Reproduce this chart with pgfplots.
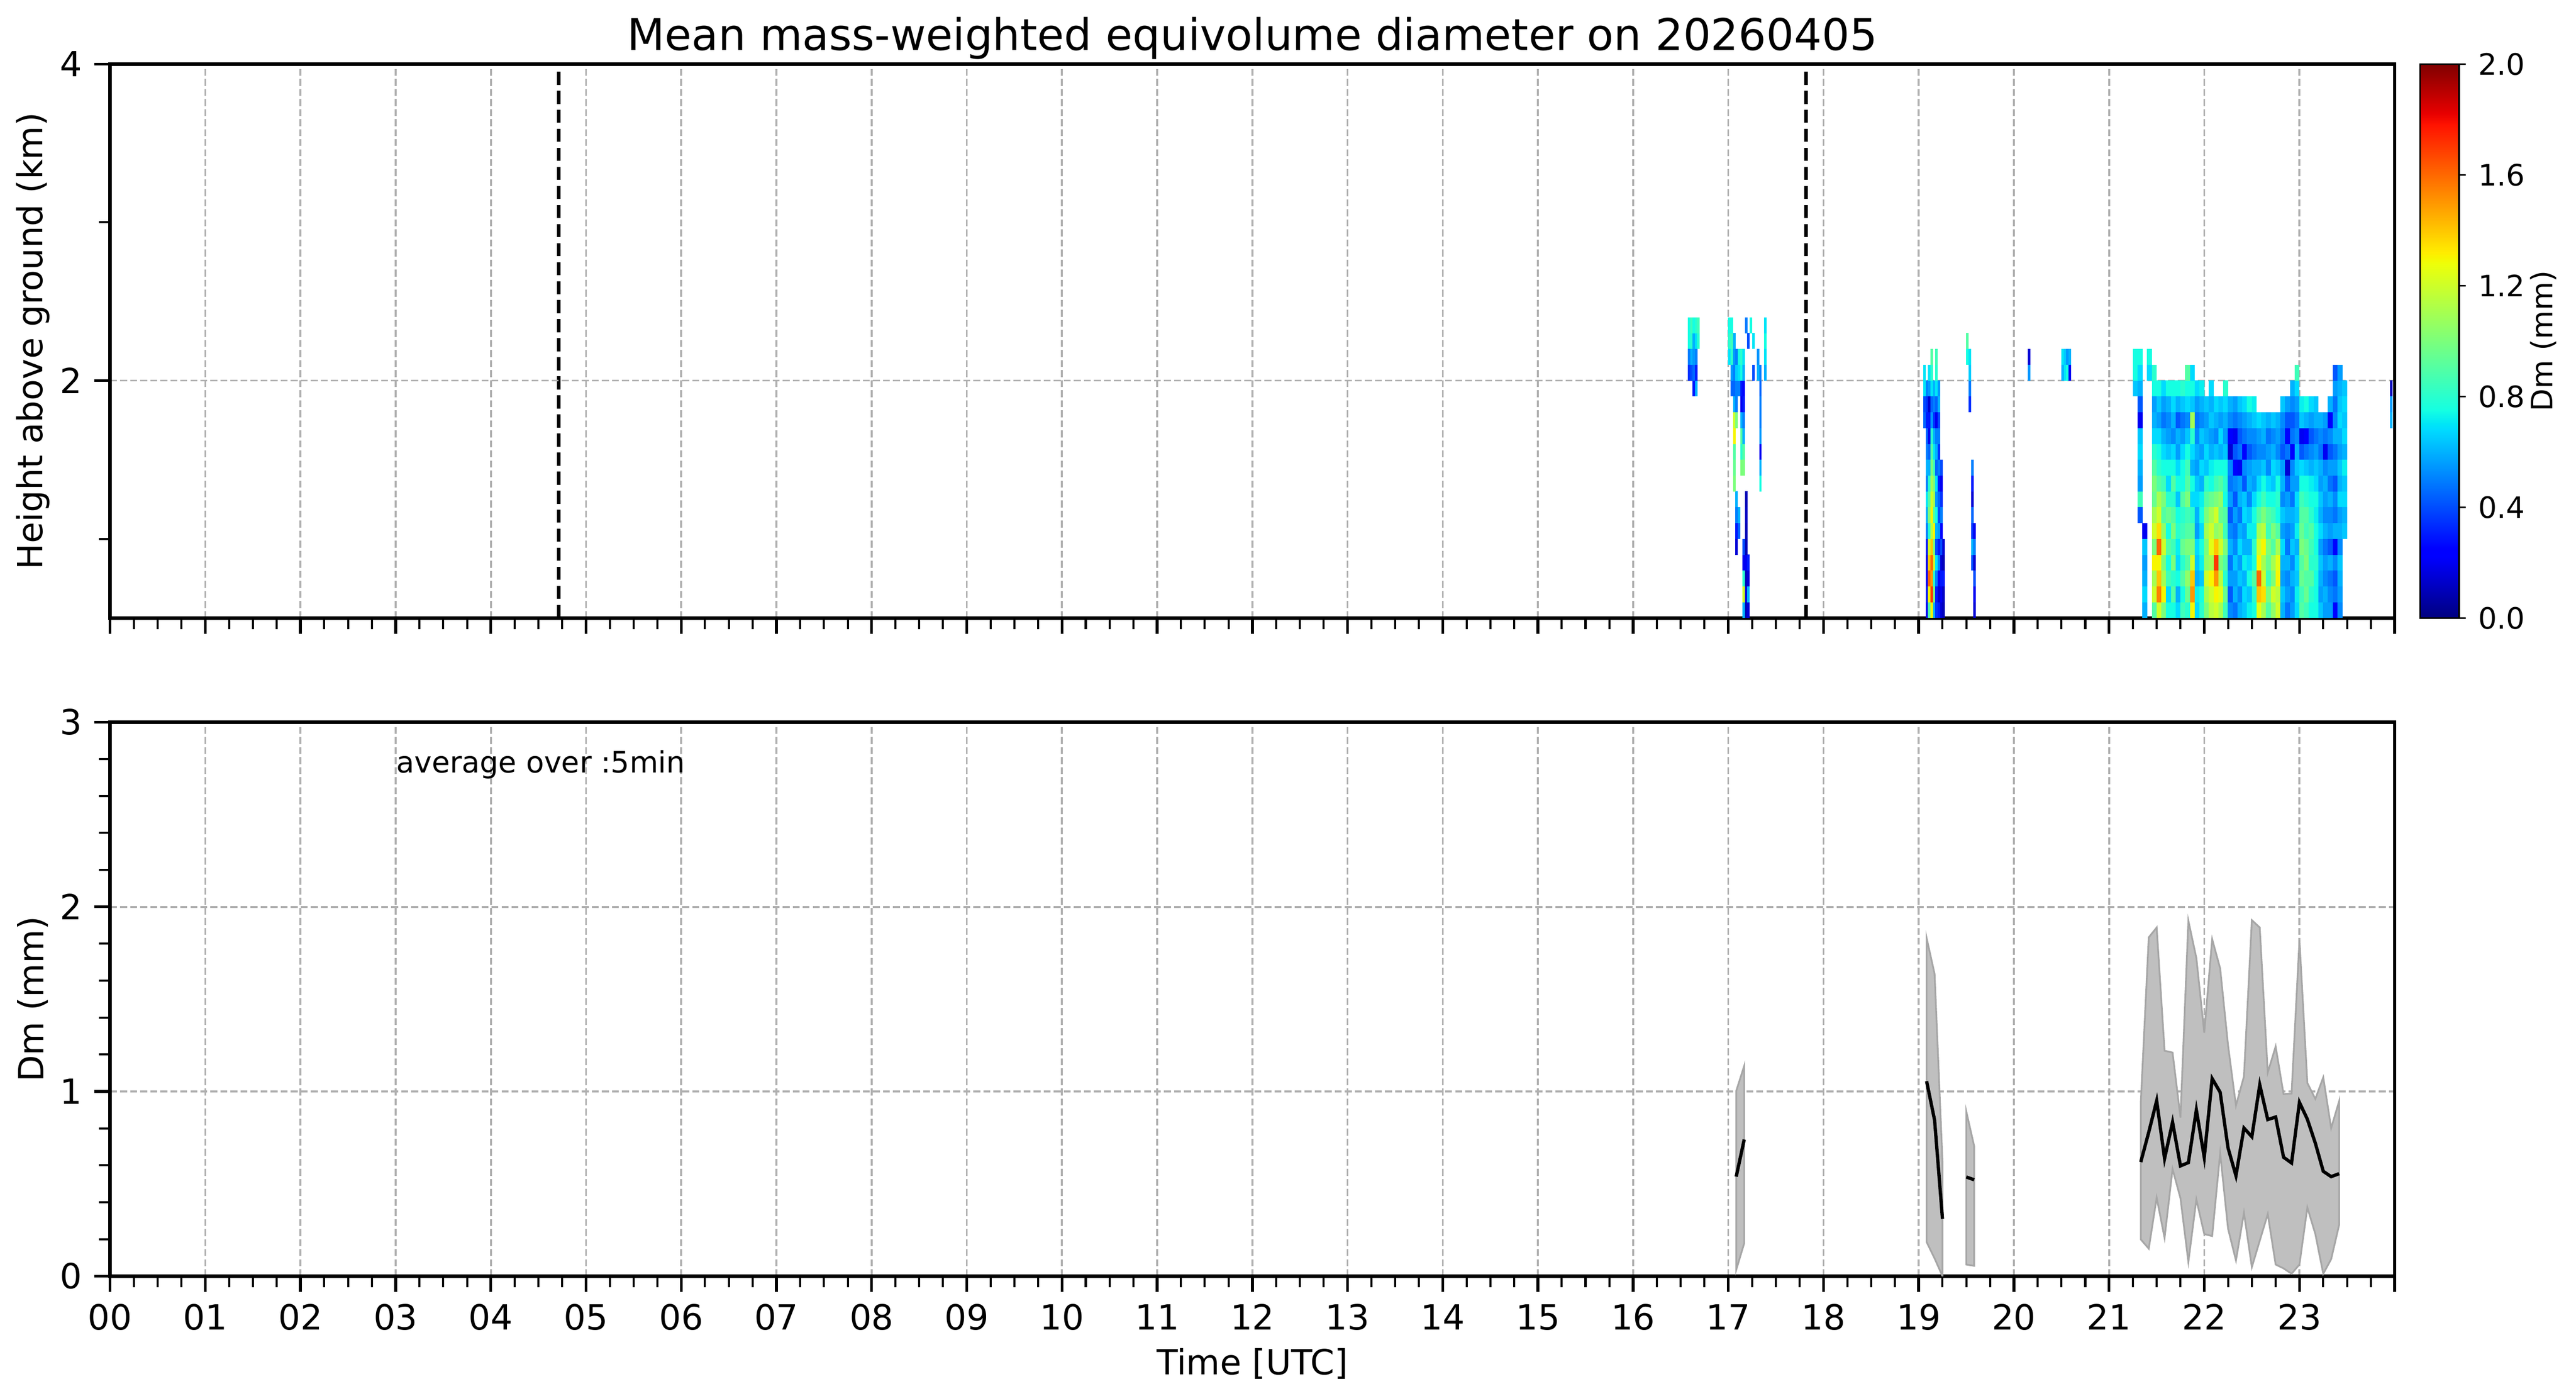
\documentclass[border=0pt]{standalone}
\usepackage{fontspec}
\setmainfont{DejaVu Sans}
\usepackage{pgfplots}
\usepackage{pgfplotstable}
\pgfplotsset{compat=1.18}

\definecolor{gridgray}{HTML}{B0B0B0}
\definecolor{bandfill}{HTML}{BFBFBF}
\definecolor{bandedge}{HTML}{A6A6A6}

\pgfplotsset{
  colormap={mpljet}{rgb(0pt)=(0,0,0.5) rgb(110pt)=(0,0,1) rgb(125pt)=(0,0,1)
    rgb(340pt)=(0,0.86,1) rgb(350pt)=(0,0.9,0.968) rgb(375pt)=(0.081,1,0.887)
    rgb(640pt)=(0.935,1,0.032) rgb(650pt)=(0.968,0.963,0) rgb(660pt)=(1,0.926,0)
    rgb(890pt)=(1,0.074,0) rgb(910pt)=(0.909,0,0) rgb(1000pt)=(0.5,0,0)},
  /pgf/number format/assume math mode=true,
}

\pgfdeclareplotmark{cellW}{\pgfpathrectangle{\pgfpoint{-0.72pt}{-2.31pt}}{\pgfpoint{1.44pt}{4.62pt}}\pgfusepathqfill}
\pgfdeclareplotmark{cellN}{\pgfpathrectangle{\pgfpoint{-0.37pt}{-2.31pt}}{\pgfpoint{0.74pt}{4.62pt}}\pgfusepathqfill}

% Dm (mm) per 0.1 km band (c0 = 0.5-0.6 km ... ), -1 = no data; 0.05 h columns
\pgfplotstableread{
x c0 c1 c2 c3 c4 c5 c6 c7 c8 c9 c10 c11 c12 c13 c14 c15 c16
21.275 -1 -1 -1 -1 -1 -1 -1 -1 -1 -1 -1 -1 -1 -1 0.64 0.75 0.75
21.325 -1 -1 -1 -1 -1 -1 0.42 0.85 0.56 0.6 0.68 0.64 0.2 0.42 0.6 0.68 0.75
21.375 0.6 0.68 0.6 0.56 0.64 0.2 -1 -1 -1 -1 -1 -1 -1 -1 -1 -1 -1
21.425 -1 -1 -1 -1 -1 -1 -1 -1 -1 -1 -1 -1 -1 -1 -1 0.68 0.75
21.475 0.9 1.2 1.1 1.3 1.0 1.2 1.1 0.95 1.0 0.9 0.8 0.68 0.6 0.56 0.75 0.8 -1
21.525 1.2 1.55 1.4 1.3 1.6 1.35 1.2 1.1 0.9 0.8 0.75 0.68 0.56 0.64 0.75 -1 -1
21.575 1.0 1.3 1.1 1.0 1.2 1.05 0.9 1.0 0.85 0.75 0.68 0.6 0.48 0.56 0.68 -1 -1
21.625 0.75 0.68 0.85 0.75 0.9 0.75 0.95 0.8 0.68 0.75 0.64 0.56 0.52 0.6 0.75 -1 -1
21.675 0.75 0.9 0.8 1.0 0.85 1.0 0.9 0.8 0.9 0.75 0.68 0.52 0.6 0.68 0.75 -1 -1
21.725 0.68 0.6 0.75 0.68 0.72 0.8 0.75 0.64 0.75 0.68 0.56 0.6 0.42 0.6 0.75 -1 -1
21.775 0.85 0.75 0.9 0.8 0.95 0.85 0.8 0.9 0.75 0.75 0.68 0.56 0.48 0.64 0.8 -1 -1
21.825 0.8 0.95 1.05 0.9 1.0 0.9 0.85 1.0 0.9 0.85 0.75 0.64 0.52 0.68 0.75 0.9 -1
21.875 1.3 1.5 1.4 1.2 1.0 0.9 0.8 0.68 0.75 0.6 0.68 0.8 1.1 0.64 0.75 0.68 -1
21.925 0.68 0.72 0.6 0.64 0.68 0.56 0.6 0.68 0.64 0.56 0.6 0.52 0.48 0.56 0.68 -1 -1
21.975 0.8 0.75 0.64 0.72 0.75 0.68 0.75 0.72 0.6 0.68 0.56 0.64 0.52 0.6 0.72 -1 -1
22.025 1.0 1.1 1.2 1.05 1.0 1.1 1.0 0.9 0.8 0.64 0.68 0.6 0.56 0.64 -1 -1 -1
22.075 1.15 1.2 1.3 1.1 1.25 1.2 1.1 0.95 0.75 0.72 0.6 0.56 0.64 0.6 0.68 -1 -1
22.125 1.2 1.3 1.5 1.7 1.4 1.05 1.2 1.0 0.85 0.75 0.64 0.52 0.6 0.68 -1 -1 -1
22.175 1.1 1.25 1.15 1.0 1.2 1.1 0.95 1.05 0.9 0.75 0.6 0.68 0.56 0.64 -1 -1 -1
22.225 0.85 0.95 0.8 0.9 1.0 0.85 0.9 0.75 0.8 0.75 0.64 0.56 0.6 0.68 0.8 -1 -1
22.275 0.52 0.42 0.56 0.48 0.6 0.52 0.42 0.56 0.48 0.52 0.15 0.25 0.52 0.6 -1 -1 -1
22.325 0.48 0.6 0.56 0.64 0.52 0.48 0.56 0.42 0.52 0.25 0.42 0.2 0.48 0.56 -1 -1 -1
22.375 0.6 0.52 0.64 0.56 0.68 0.6 0.48 0.6 0.56 0.2 0.48 0.42 0.52 0.64 -1 -1 -1
22.425 0.64 0.68 0.6 0.72 0.6 0.56 0.68 0.64 0.42 0.52 0.25 0.48 0.56 0.68 -1 -1 -1
22.475 0.72 0.64 0.75 0.68 0.6 0.72 0.64 0.52 0.6 0.56 0.42 0.52 0.6 0.75 -1 -1 -1
22.525 0.75 0.8 0.9 0.75 0.8 0.72 0.75 0.68 0.56 0.6 0.48 0.52 0.64 0.72 -1 -1 -1
22.575 1.25 1.4 1.6 1.3 1.2 1.1 0.9 0.75 0.68 0.6 0.52 0.56 0.68 -1 -1 -1 -1
22.625 1.1 1.35 1.2 1.1 1.3 1.15 1.0 0.85 0.75 0.64 0.52 0.6 0.64 -1 -1 -1 -1
22.675 0.9 1.0 0.85 0.95 1.0 0.85 0.9 0.75 0.68 0.52 0.56 0.48 0.6 -1 -1 -1 -1
22.725 1.05 1.2 1.0 1.1 0.9 1.0 0.85 0.75 0.64 0.68 0.6 0.52 0.64 -1 -1 -1 -1
22.775 1.2 1.15 1.3 1.25 1.1 0.9 0.75 0.8 0.75 0.64 0.52 0.56 0.6 -1 -1 -1 -1
22.825 0.6 0.64 0.56 0.6 0.68 0.56 0.64 0.52 0.6 0.56 0.42 0.48 0.52 0.64 -1 -1 -1
22.875 0.48 0.56 0.52 0.6 0.48 0.52 0.6 0.56 0.42 0.15 0.48 0.25 0.42 0.56 -1 -1 -1
22.925 0.56 0.52 0.6 0.52 0.64 0.56 0.6 0.48 0.56 0.52 0.25 0.48 0.42 0.52 0.6 -1 -1
22.975 0.68 0.72 0.64 0.68 0.6 0.72 0.64 0.68 0.56 0.64 0.6 0.52 0.48 0.56 0.68 0.85 -1
23.025 0.9 0.85 0.95 0.9 1.0 0.95 0.9 0.85 0.75 0.68 0.42 0.2 0.64 0.72 -1 -1 -1
23.075 0.85 0.95 0.9 1.0 0.95 0.85 0.9 0.8 0.75 0.64 0.48 0.25 0.6 0.75 -1 -1 -1
23.125 0.75 0.8 0.9 0.8 0.85 0.9 0.8 0.75 0.72 0.6 0.52 0.42 0.56 0.68 -1 -1 -1
23.175 0.75 0.75 0.75 0.8 0.75 0.75 0.72 0.75 0.68 0.64 0.56 0.48 0.6 0.64 -1 -1 -1
23.225 0.64 0.56 0.6 0.64 0.56 0.68 0.6 0.64 0.56 0.6 0.48 0.52 0.6 -1 -1 -1 -1
23.275 0.56 0.6 0.52 0.56 0.48 0.6 0.52 0.56 0.6 0.52 0.2 0.48 0.56 -1 -1 -1 -1
23.325 0.56 0.52 0.48 0.6 0.42 0.56 0.52 0.6 0.48 0.56 0.42 0.52 0.25 0.6 -1 -1 -1
23.375 0.25 0.48 0.42 0.52 0.25 0.6 0.48 0.52 0.42 0.56 0.48 0.6 0.52 0.48 0.56 0.42 -1
23.425 0.52 0.56 0.6 0.64 0.52 0.6 0.56 0.68 0.6 0.64 0.56 0.6 0.68 0.64 0.6 0.56 -1
23.475 -1 -1 -1 -1 -1 0.64 0.6 0.68 0.64 0.72 0.6 0.68 0.64 0.68 0.64 -1 -1
}\tabD

% narrow 0.025 h columns, bands c0..c19 (0.5 - 2.5 km)
\pgfplotstableread{
x c0 c1 c2 c3 c4 c5 c6 c7 c8 c9 c10 c11 c12 c13 c14 c15 c16 c17 c18 c19
16.5875 -1 -1 -1 -1 -1 -1 -1 -1 -1 -1 -1 -1 -1 -1 -1 0.35 0.5 0.75 0.75 -1
16.6125 -1 -1 -1 -1 -1 -1 -1 -1 -1 -1 -1 -1 -1 -1 -1 0.4 0.6 0.8 0.85 -1
16.6375 -1 -1 -1 -1 -1 -1 -1 -1 -1 -1 -1 -1 -1 -1 0.3 0.45 0.55 0.6 0.75 -1
16.6625 -1 -1 -1 -1 -1 -1 -1 -1 -1 -1 -1 -1 -1 -1 0.6 0.3 0.5 0.7 0.8 -1
16.6875 -1 -1 -1 -1 -1 -1 -1 -1 -1 -1 -1 -1 -1 -1 -1 -1 -1 0.8 0.85 -1
17.0125 -1 -1 -1 -1 -1 -1 -1 -1 -1 -1 -1 -1 -1 -1 -1 -1 0.7 0.8 0.75 -1
17.0375 -1 -1 -1 -1 -1 -1 -1 -1 -1 -1 -1 -1 -1 -1 0.45 0.55 0.8 0.85 0.75 -1
17.0625 -1 -1 -1 -1 -1 -1 -1 -1 1.0 0.95 0.9 1.3 1.2 0.6 0.45 0.5 0.55 0.6 -1 -1
17.0875 -1 -1 -1 -1 0.15 0.3 0.5 0.6 -1 -1 -1 -1 1.0 0.5 0.5 0.65 0.5 -1 -1 -1
17.1125 -1 -1 -1 -1 -1 0.45 0.6 -1 -1 -1 -1 -1 -1 -1 0.5 0.7 0.75 -1 -1 -1
17.1375 -1 -1 -1 -1 -1 -1 -1 -1 -1 1.0 0.8 0.9 0.6 0.2 0.3 0.75 0.8 -1 -1 -1
17.1625 0.6 1.2 0.8 0.2 0.4 -1 -1 -1 -1 1.0 0.9 0.6 0.5 0.3 0.25 0.6 0.7 -1 -1 -1
17.1875 0.1 0.15 0.1 0.2 0.1 0.1 0.12 0.1 -1 -1 -1 -1 -1 -1 -1 -1 -1 -1 0.5 -1
17.2125 0.15 0.6 0.15 0.3 -1 -1 -1 -1 -1 -1 -1 -1 -1 -1 -1 -1 -1 0.4 -1 -1
17.2375 -1 -1 -1 -1 -1 -1 -1 -1 -1 -1 -1 -1 -1 -1 -1 -1 -1 -1 0.75 -1
17.2625 -1 -1 -1 -1 -1 -1 -1 -1 -1 -1 -1 -1 -1 -1 -1 0.4 -1 0.7 -1 -1
17.3125 -1 -1 -1 -1 -1 -1 -1 -1 -1 -1 -1 -1 -1 -1 -1 0.6 0.55 -1 -1 -1
17.3375 -1 -1 -1 -1 -1 -1 -1 -1 0.75 0.6 0.2 0.55 0.5 0.5 0.45 0.5 -1 -1 -1 -1
17.3875 -1 -1 -1 -1 -1 -1 -1 -1 -1 -1 -1 -1 -1 -1 -1 0.6 0.7 0.75 0.7 -1
19.0625 -1 -1 -1 -1 -1 -1 -1 -1 -1 -1 -1 -1 0.45 0.4 0.7 0.7 -1 -1 -1 -1
19.0875 0.2 0.3 0.25 0.2 0.3 0.5 0.6 0.7 0.5 0.6 0.5 0.45 0.3 0.35 0.5 -1 -1 -1 -1 -1
19.1125 0.9 1.3 1.6 1.4 1.2 0.8 1.0 0.9 0.8 0.6 0.45 0.2 0.3 0.15 0.55 0.7 -1 -1 -1 -1
19.1375 1.3 1.7 1.5 1.6 1.4 1.15 1.3 1.2 1.1 1.0 0.9 0.8 0.55 0.45 0.7 0.8 0.9 -1 -1 -1
19.1625 0.6 1.0 0.8 1.2 1.0 1.3 0.9 1.1 1.0 0.85 0.7 0.6 0.35 0.5 0.6 -1 -1 -1 -1 -1
19.1875 0.35 0.3 0.5 0.7 0.4 0.6 0.75 0.55 0.7 0.45 0.6 0.5 0.2 0.45 0.7 0.8 0.85 -1 -1 -1
19.2125 0.3 0.15 0.25 0.5 0.3 0.55 0.4 0.45 0.3 0.5 0.35 0.5 0.4 0.6 0.55 -1 -1 -1 -1 -1
19.2375 0.15 0.2 0.3 0.15 0.4 0.25 0.5 0.35 0.2 0.4 -1 -1 -1 -1 -1 -1 -1 -1 -1 -1
19.2625 0.1 0.12 0.3 0.1 0.15 -1 -1 -1 -1 -1 -1 -1 -1 -1 -1 -1 -1 -1 -1 -1
19.5125 -1 -1 -1 -1 -1 -1 -1 -1 -1 -1 -1 -1 -1 -1 -1 -1 0.75 0.9 -1 -1
19.5375 -1 -1 -1 -1 -1 -1 -1 -1 -1 -1 -1 -1 -1 0.35 0.5 0.65 0.7 -1 -1 -1
19.5625 -1 -1 -1 0.4 0.6 0.35 0.45 0.15 0.3 0.5 -1 -1 -1 -1 -1 -1 -1 -1 -1 -1
19.5875 0.15 0.2 0.4 0.15 0.5 0.2 -1 -1 -1 -1 -1 -1 -1 -1 -1 -1 -1 -1 -1 -1
20.1625 -1 -1 -1 -1 -1 -1 -1 -1 -1 -1 -1 -1 -1 -1 -1 0.55 0.15 -1 -1 -1
20.5125 -1 -1 -1 -1 -1 -1 -1 -1 -1 -1 -1 -1 -1 -1 -1 0.6 0.7 -1 -1 -1
20.5375 -1 -1 -1 -1 -1 -1 -1 -1 -1 -1 -1 -1 -1 -1 -1 0.7 0.65 -1 -1 -1
20.5625 -1 -1 -1 -1 -1 -1 -1 -1 -1 -1 -1 -1 -1 -1 -1 0.75 0.55 -1 -1 -1
20.5875 -1 -1 -1 -1 -1 -1 -1 -1 -1 -1 -1 -1 -1 -1 -1 0.2 0.6 -1 -1 -1
23.9625 -1 -1 -1 -1 -1 -1 -1 -1 -1 -1 -1 -1 0.6 0.55 0.1 -1 -1 -1 -1 -1
}\tabN

\begin{document}
\begin{tikzpicture}
\useasboundingbox (0,0) rectangle (744.2pt,403.1pt);

\begin{axis}[
  name=top, at={(31.8pt,224.6pt)}, anchor=south west,
  scale only axis, width=660pt, height=160pt,
  xmin=0, xmax=24, ymin=0.5, ymax=4,
  axis on top,
  xtick={0,1,...,24}, xticklabels={}, minor x tick num=3,
  ytick={2,4}, yticklabels={2,4}, minor ytick={1,3},
  grid=major,
  major grid style={gridgray, line width=0.55pt, dash pattern=on 2pt off 0.9pt},
  tick align=outside, xtick pos=left, ytick pos=left,
  major tick length=4.6pt, minor tick length=3.2pt,
  major tick style={line width=0.8pt, black},
  minor tick style={line width=0.6pt, black},
  axis line style={line width=1pt},
  tick label style={font=\fontsize{10}{12}\selectfont},
  title={Mean mass-weighted equivolume diameter on 20260405},
  every axis title/.style={at={(axis description cs:0.5,1)}, anchor=base, yshift=4pt, font=\fontsize{12.6}{15}\selectfont},
  ylabel={Height above ground (km)},
  every axis y label/.style={at={(axis description cs:-0.0338,0.5)}, rotate=90, anchor=center, font=\fontsize{10}{12}\selectfont},
  colormap name=mpljet,
  point meta min=0, point meta max=2,
]
\pgfplotsinvokeforeach{0,...,16}{
  \addplot[scatter, only marks, mark=cellW,
    scatter/use mapped color={draw=mapped color, fill=mapped color},
    point meta=explicit, restrict expr to domain={\thisrow{c#1}}{0:5}]
    table[x=x, y expr={0.55+0.1*#1}, meta=c#1] {\tabD};
}
\pgfplotsinvokeforeach{0,...,19}{
  \addplot[scatter, only marks, mark=cellN,
    scatter/use mapped color={draw=mapped color, fill=mapped color},
    point meta=explicit, restrict expr to domain={\thisrow{c#1}}{0:5}]
    table[x=x, y expr={0.55+0.1*#1}, meta=c#1] {\tabN};
}
\addplot[black, line width=1.05pt, dash pattern=on 3.8pt off 1.7pt] coordinates {(4.715,0.5) (4.715,4)};
\addplot[black, line width=1.05pt, dash pattern=on 3.8pt off 1.7pt] coordinates {(17.816,0.5) (17.816,4)};
\end{axis}

% colour bar
\begin{axis}[
  at={(699.2pt,224.6pt)}, anchor=south west,
  scale only axis, width=11.2pt, height=160pt,
  xmin=0, xmax=1, ymin=0, ymax=2,
  axis on top,
  xtick=\empty,
  ytick={0,0.4,0.8,1.2,1.6,2}, yticklabels={0.0,0.4,0.8,1.2,1.6,2.0},
  ytick pos=right, yticklabel pos=right,
  yticklabel style={font=\fontsize{8.5}{10}\selectfont},
  tick align=outside, major tick length=2pt,
  major tick style={line width=0.5pt, black},
  axis line style={line width=0.5pt},
  colormap name=mpljet, point meta min=0, point meta max=2,
  ylabel={Dm (mm)},
  every axis y label/.style={at={(axis description cs:3.18,0.5)}, rotate=90, anchor=center, font=\fontsize{8.5}{10}\selectfont},
]
\addplot[surf, shader=interp, point meta=y, mesh/cols=2] coordinates {(0,0) (1,0) (0,2) (1,2)};
\end{axis}

\begin{axis}[
  name=bot, at={(31.8pt,34.5pt)}, anchor=south west,
  scale only axis, width=660pt, height=160pt,
  xmin=0, xmax=24, ymin=0, ymax=3,
  xtick={0,1,...,24},
  xticklabels={00,01,02,03,04,05,06,07,08,09,10,11,12,13,14,15,16,17,18,19,20,21,22,23,{}},
  minor x tick num=3,
  ytick={0,1,2,3}, yticklabels={0,1,2,3}, minor y tick num=4,
  grid=major,
  major grid style={gridgray, line width=0.55pt, dash pattern=on 2pt off 0.9pt},
  tick align=outside, xtick pos=left, ytick pos=left,
  major tick length=4.6pt, minor tick length=3.2pt,
  major tick style={line width=0.8pt, black},
  minor tick style={line width=0.6pt, black},
  axis line style={line width=1pt},
  tick label style={font=\fontsize{10}{12}\selectfont},
  xlabel={Time [UTC]},
  every axis x label/.style={at={(axis description cs:0.5,-0.1775)}, anchor=base, font=\fontsize{10}{12}\selectfont},
  ylabel={Dm (mm)},
  every axis y label/.style={at={(axis description cs:-0.0338,0.5)}, rotate=90, anchor=center, font=\fontsize{10}{12}\selectfont},
]
\addplot[fill=bandfill, draw=bandedge, line width=0.5pt] coordinates {(17.083,1.003) (17.167,1.139) (17.167,0.178) (17.083,0.034)} -- cycle;
\addplot[fill=bandfill, draw=bandedge, line width=0.5pt] coordinates {(19.083,1.832) (19.167,1.637) (19.25,0.62) (19.25,0.0) (19.167,0.096) (19.083,0.185)} -- cycle;
\addplot[fill=bandfill, draw=bandedge, line width=0.5pt] coordinates {(19.5,0.892) (19.583,0.704) (19.583,0.056) (19.5,0.063)} -- cycle;
\addplot[fill=bandfill, draw=bandedge, line width=0.5pt] coordinates {
 (21.333,0.938) (21.417,1.835) (21.5,1.888) (21.583,1.221) (21.667,1.211) (21.75,0.859)
 (21.833,1.925) (21.917,1.723) (22.0,1.318) (22.083,1.825) (22.167,1.667) (22.25,1.25)
 (22.333,0.924) (22.417,1.082) (22.5,1.928) (22.583,1.888) (22.667,1.103) (22.75,1.244)
 (22.833,0.986) (22.917,0.989) (23.0,1.821) (23.083,1.046) (23.167,0.96) (23.25,1.077)
 (23.333,0.802) (23.417,0.948)
 (23.417,0.278) (23.333,0.092) (23.25,0.013) (23.167,0.228) (23.083,0.372) (23.0,0.063)
 (22.917,0.013) (22.833,0.042) (22.75,0.063) (22.667,0.336) (22.583,0.192) (22.5,0.049)
 (22.417,0.343) (22.333,0.085) (22.25,0.257) (22.167,0.666) (22.083,0.217) (22.0,0.228)
 (21.917,0.415) (21.833,0.077) (21.75,0.422) (21.667,0.580) (21.583,0.207) (21.5,0.425)
 (21.417,0.149) (21.333,0.199)} -- cycle;
\addplot[black, line width=0.95pt] coordinates {(17.083,0.539) (17.167,0.740)};
\addplot[black, line width=0.95pt] coordinates {(19.083,1.056) (19.167,0.845) (19.25,0.310)};
\addplot[black, line width=0.95pt] coordinates {(19.5,0.537) (19.583,0.522)};
\addplot[black, line width=0.95pt] coordinates {
 (21.333,0.618) (21.417,0.78) (21.5,0.95) (21.583,0.637) (21.667,0.834) (21.75,0.597)
 (21.833,0.615) (21.917,0.90) (22.0,0.644) (22.083,1.07) (22.167,0.996) (22.25,0.694)
 (22.333,0.544) (22.417,0.802) (22.5,0.755) (22.583,1.036) (22.667,0.848) (22.75,0.862)
 (22.833,0.644) (22.917,0.613) (23.0,0.941) (23.083,0.85) (23.167,0.72) (23.25,0.568)
 (23.333,0.539) (23.417,0.555)};
\node[anchor=base west, font=\fontsize{8.5}{10}\selectfont, inner sep=0pt] at (axis cs:3,2.726) {average over :5min};
\end{axis}
\end{tikzpicture}
\end{document}
